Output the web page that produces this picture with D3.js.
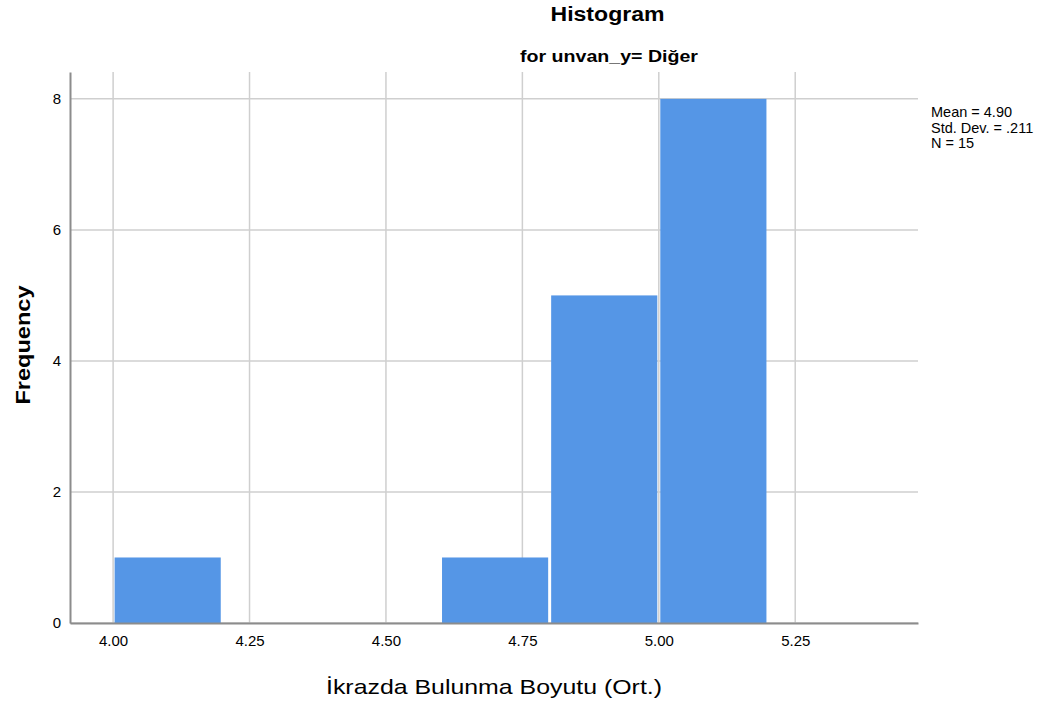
<!DOCTYPE html>
<html>
<head>
<meta charset="utf-8">
<script src="https://cdn.jsdelivr.net/npm/d3@7"></script>
<style>
  body { margin: 0; background: #fff; }
  text { font-family: "Liberation Sans", Arial, sans-serif; fill: #000; }
</style>
</head>
<body>
<script>
// histogram bins (lower edge, upper edge) and counts
var binStarts = [4.0, 4.2, 4.4, 4.6, 4.8, 5.0];
var binEnds = [4.2, 4.4, 4.6, 4.8, 5.0, 5.2];
var counts = [1, 0, 0, 1, 5, 8];
var xTicks = [4.00, 4.25, 4.50, 4.75, 5.00, 5.25];
var yTicks = [0, 2, 4, 6, 8];
var statsLines = ["Mean = 4.90", "Std. Dev. = .211", "N = 15"];

var svgWidth = 1053, svgHeight = 704;
var margin = { top: 72, right: 135, bottom: 81, left: 70 };
var width = svgWidth - margin.left - margin.right;
var height = svgHeight - margin.top - margin.bottom;

var svg = d3.select("body").append("svg")
  .attr("width", svgWidth)
  .attr("height", svgHeight);

var chartGroup = svg.append("g")
  .attr("transform", `translate(${margin.left}, ${margin.top})`);

var xScale = d3.scaleLinear().domain([3.921, 5.475]).range([0, width]);
var yScale = d3.scaleLinear().domain([0, 8.41]).range([height, 0]);

// grid lines
chartGroup.selectAll(".vgrid").data(xTicks).enter().append("line")
  .attr("x1", d => xScale(d)).attr("x2", d => xScale(d))
  .attr("y1", 0).attr("y2", height)
  .attr("stroke", "#cfcfcf").attr("stroke-width", 1.5);

chartGroup.selectAll(".hgrid").data(yTicks).enter().append("line")
  .attr("x1", 0).attr("x2", width)
  .attr("y1", d => yScale(d)).attr("y2", d => yScale(d))
  .attr("stroke", "#cfcfcf").attr("stroke-width", 1.5);

// bars
var bins = counts.map((c, i) => ({ x0: binStarts[i], x1: binEnds[i], n: c }));
chartGroup.selectAll(".bar").data(bins.filter(d => d.n > 0)).enter().append("rect")
  .attr("x", d => xScale(d.x0) + 1.5)
  .attr("width", d => xScale(d.x1) - xScale(d.x0) - 3)
  .attr("y", d => yScale(d.n))
  .attr("height", d => yScale(0) - yScale(d.n))
  .attr("fill", "#5596e6");

// axes
var bottomAxis = d3.axisBottom(xScale).tickValues(xTicks)
  .tickFormat(d3.format(".2f")).tickSize(0).tickPadding(12);
var leftAxis = d3.axisLeft(yScale).tickValues(yTicks)
  .tickFormat(d3.format("d")).tickSize(0).tickPadding(9);

var gx = chartGroup.append("g")
  .attr("transform", `translate(0, ${height})`)
  .call(bottomAxis);
var gy = chartGroup.append("g").call(leftAxis);

[gx, gy].forEach(g => {
  g.select(".domain").attr("stroke", "#8c8c8c").attr("stroke-width", 2);
  g.selectAll("text").style("font-size", "15px")
    .style("font-family", "'Liberation Sans', Arial, sans-serif").attr("fill", "#222");
});

// titles
svg.append("text")
  .attr("x", 607.5).attr("y", 21)
  .attr("text-anchor", "middle")
  .style("font-size", "20px").style("font-weight", "bold")
  .attr("textLength", 114).attr("lengthAdjust", "spacingAndGlyphs")
  .text("Histogram");

svg.append("text")
  .attr("x", 609).attr("y", 62)
  .attr("text-anchor", "middle")
  .style("font-size", "17px").style("font-weight", "bold")
  .attr("textLength", 178).attr("lengthAdjust", "spacingAndGlyphs")
  .text("for unvan_y= Diğer");

svg.append("text")
  .attr("x", margin.left + width / 2).attr("y", 694)
  .attr("text-anchor", "middle")
  .style("font-size", "21px")
  .attr("textLength", 336).attr("lengthAdjust", "spacingAndGlyphs")
  .text("İkrazda Bulunma Boyutu (Ort.)");

svg.append("text")
  .attr("transform", `translate(30, 345) rotate(-90)`)
  .attr("text-anchor", "middle")
  .style("font-size", "21px").style("font-weight", "bold")
  .attr("textLength", 119).attr("lengthAdjust", "spacingAndGlyphs")
  .text("Frequency");

// stats box
svg.selectAll(".stat").data(statsLines).enter().append("text")
  .attr("x", 931)
  .attr("y", (d, i) => 117 + i * 15.5)
  .style("font-size", "14.5px")
  .text(d => d);
</script>
</body>
</html>
